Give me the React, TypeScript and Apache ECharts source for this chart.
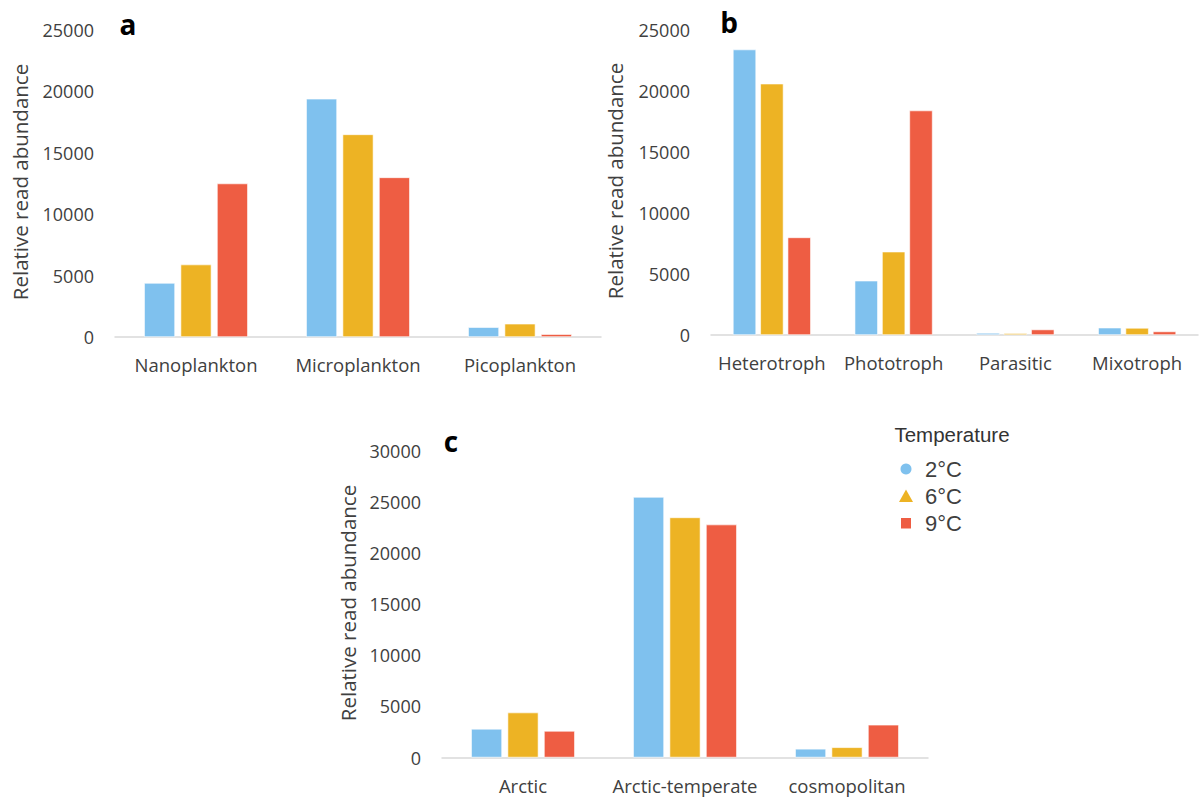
import React, { useEffect, useRef } from "react";
import * as echarts from "echarts";

// Panel a: size classes
const sizeClasses = ["Nanoplankton", "Microplankton", "Picoplankton"];
const size2C = [4400, 19400, 800];
const size6C = [5900, 16500, 1080];
const size9C = [12500, 13000, 230];

// Panel b: trophic modes
const trophicModes = ["Heterotroph", "Phototroph", "Parasitic", "Mixotroph"];
const trophic2C = [23400, 4450, 170, 600];
const trophic6C = [20600, 6830, 150, 580];
const trophic9C = [8000, 18400, 450, 290];

// Panel c: biogeography
const biogeo = ["Arctic", "Arctic-temperate", "cosmopolitan"];
const biogeo2C = [2800, 25500, 850];
const biogeo6C = [4400, 23500, 1000];
const biogeo9C = [2600, 22800, 3200];

const temperatures = ["2°C", "6°C", "9°C"];
const tempColors = ["#7FC1EE", "#EDB324", "#EE5D43"];

const FONT = "'Open Sans', 'Noto Sans', sans-serif";
const LEGEND_FONT = "'Liberation Sans', Arial, sans-serif";
const AXIS_NAME = "Relative read abundance";

export default function App() {
  const ref = useRef<HTMLDivElement>(null);

  useEffect(() => {
    if (!ref.current) return;
    const chart = echarts.init(ref.current, undefined, { renderer: "svg" });

    const grids = [
      { left: 115, right: 599, top: 30, bottom: 464 },
      { left: 711, right: 2, top: 30, bottom: 466 },
      { left: 442, right: 272, top: 451, bottom: 43.5 },
    ];
    const cats = [sizeClasses, trophicModes, biogeo];
    const maxes = [25000, 25000, 30000];
    const panels = [
      [size2C, size6C, size9C],
      [trophic2C, trophic6C, trophic9C],
      [biogeo2C, biogeo6C, biogeo9C],
    ];

    const xAxis = cats.map((c, i) => ({
      type: "category" as const,
      gridIndex: i,
      data: c,
      axisLine: { lineStyle: { color: "#D9D9D9", width: 1.5 } },
      axisTick: { show: false },
      axisLabel: { color: "#404040", fontSize: 18.5, fontFamily: FONT, margin: 18, interval: 0 },
    }));
    const yAxis = maxes.map((m, i) => ({
      type: "value" as const,
      gridIndex: i,
      min: 0,
      max: m,
      interval: 5000,
      splitLine: { show: false },
      axisLine: { show: false },
      axisTick: { show: false },
      axisLabel: {
        color: "#404040",
        fontSize: 18,
        fontFamily: FONT,
        margin: 21,
        formatter: (v: number) => String(v),
      },
    }));

    const series: any[] = [];
    panels.forEach((vals, p) => {
      vals.forEach((arr, t) => {
        series.push({
          type: "bar",
          name: temperatures[t],
          xAxisIndex: p,
          yAxisIndex: p,
          data: arr,
          barGap: "18%",
          barCategoryGap: "36%",
          itemStyle: { color: tempColors[t], borderColor: "#FFFFFF", borderWidth: 0.6 },
        });
      });
    });

    const letter = (txt: string, x: number, y: number) => ({
      type: "text",
      x,
      y,
      style: {
        text: txt,
        fontSize: 28,
        fontWeight: "bold",
        fontFamily: FONT,
        fill: "#000",
        align: "center",
        verticalAlign: "middle",
      },
    });
    const axisName = (x: number, y: number) => ({
      type: "text",
      x,
      y,
      rotation: Math.PI / 2,
      style: {
        text: AXIS_NAME,
        fontSize: 20.5,
        fontFamily: FONT,
        fill: "#404040",
        align: "center",
        verticalAlign: "middle",
      },
    });

    // Temperature key: marker + label per series
    const keyX = 906;
    const keyRows = [469, 496.5, 523.5];
    const keyMarkers = [
      { type: "circle", shape: { cx: keyX, cy: keyRows[0], r: 5.5 }, style: { fill: tempColors[0] } },
      {
        type: "polygon",
        shape: { points: [[keyX - 7, keyRows[1] + 5.5], [keyX + 7, keyRows[1] + 5.5], [keyX, keyRows[1] - 7]] },
        style: { fill: tempColors[1] },
      },
      { type: "rect", shape: { x: keyX - 5, y: keyRows[2] - 5.5, width: 10, height: 10.5 }, style: { fill: tempColors[2] } },
    ];
    const keyLabels = temperatures.map((t, i) => ({
      type: "text",
      x: 925,
      y: keyRows[i],
      style: {
        text: t,
        fontSize: 22,
        fontFamily: LEGEND_FONT,
        fill: "#404040",
        align: "left",
        verticalAlign: "middle",
      },
    }));

    chart.setOption({
      animation: false,
      backgroundColor: "#FFFFFF",
      grid: grids,
      xAxis,
      yAxis,
      series,
      graphic: [
        letter("a", 128, 24),
        letter("b", 729, 22),
        letter("c", 451, 441),
        axisName(20, 182),
        axisName(615, 181),
        axisName(348, 603),
        {
          type: "text",
          x: 952,
          y: 434,
          style: {
            text: "Temperature",
            fontSize: 20.5,
            fontFamily: LEGEND_FONT,
            fill: "#333333",
            align: "center",
            verticalAlign: "middle",
          },
        },
        ...keyMarkers,
        ...keyLabels,
      ],
    });

    return () => chart.dispose();
  }, []);

  return (
    <div
      ref={ref}
      style={{ position: "absolute", left: 0, top: 0, width: 1200, height: 801 }}
    />
  );
}
